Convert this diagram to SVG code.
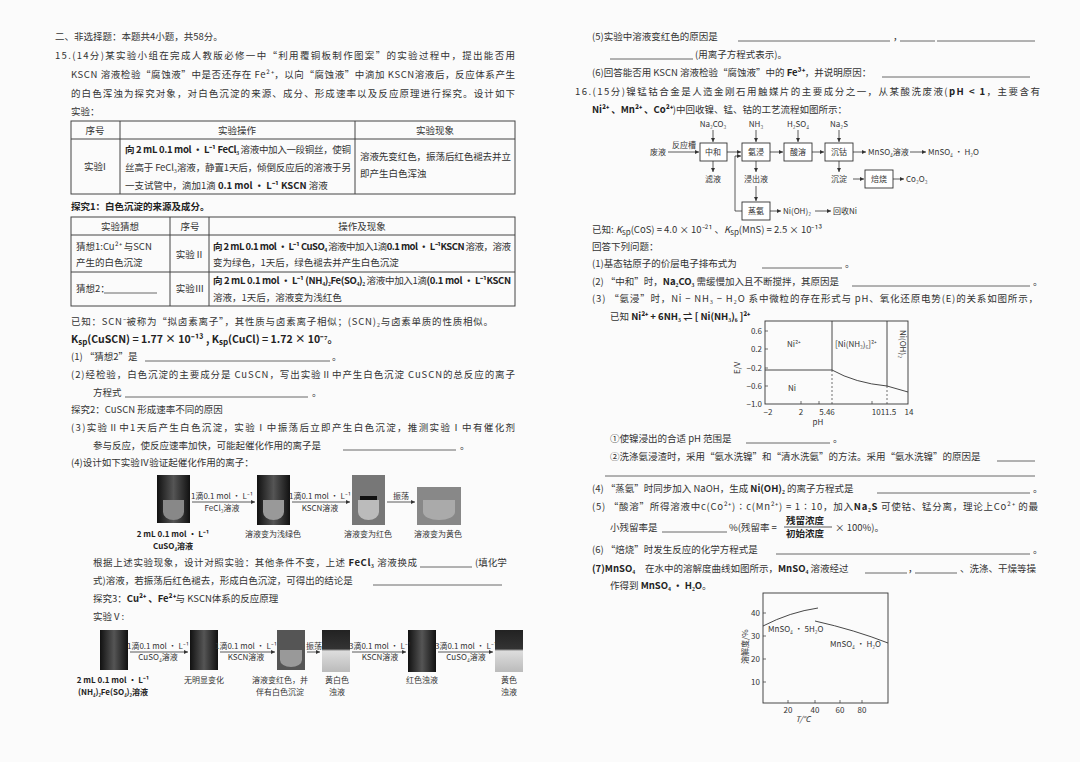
<svg xmlns="http://www.w3.org/2000/svg" width="1080" height="762" viewBox="0 0 1080 762">
<style>
text{font-family:"Noto Sans CJK SC","Liberation Serif",serif;font-size:9.5px;fill:#333}
.b{font-weight:bold;fill:#222}
.s{font-size:8px}
.ln{stroke:#444;stroke-width:0.8;fill:none}
.tb{stroke:#444;stroke-width:1;fill:none}
.bx{stroke:#333;stroke-width:0.9;fill:#fff}
.ar{stroke:#333;stroke-width:0.8;fill:none;marker-end:url(#a)}
.c{text-anchor:middle}
</style>
<defs>
<marker id="a" markerWidth="6" markerHeight="6" refX="5" refY="3" orient="auto"><path d="M0,0.5 L5,3 L0,5.5z" fill="#333"/></marker>
<linearGradient id="tube" x1="0" y1="0" x2="1" y2="0"><stop offset="0" stop-color="#111"/><stop offset="0.5" stop-color="#555"/><stop offset="1" stop-color="#111"/></linearGradient>
<linearGradient id="tubeL" x1="0" y1="0" x2="0" y2="1"><stop offset="0" stop-color="#222"/><stop offset="0.45" stop-color="#333"/><stop offset="0.5" stop-color="#ddd"/><stop offset="1" stop-color="#bbb"/></linearGradient>
</defs>
<rect width="1080" height="762" fill="#fbfbfb"/>

<g id="left-text">
<text x="55" y="40">二、非选择题：本题共4小题，共58分。</text>
<text x="55" y="59" textLength="460">15.(14分)某实验小组在完成人教版必修一中“利用覆铜板制作图案”的实验过程中，提出能否用</text>
<text x="71" y="78" textLength="444">KSCN 溶液检验“腐蚀液”中是否还存在 Fe²⁺，以向“腐蚀液”中滴加 KSCN溶液后，反应体系产生</text>
<text x="71" y="97" textLength="444">的白色浑浊为探究对象，对白色沉淀的来源、成分、形成速率以及反应原理进行探究。设计如下</text>
<text x="71" y="115">实验：</text>
</g>

<g id="table1">
<rect class="tb" x="71" y="121" width="444" height="73"/>
<line class="tb" x1="71" y1="139" x2="515" y2="139"/>
<line class="tb" x1="120" y1="121" x2="120" y2="194"/>
<line class="tb" x1="355" y1="121" x2="355" y2="194"/>
<text class="c" x="95" y="134">序号</text>
<text class="c" x="237" y="134">实验操作</text>
<text class="c" x="435" y="134">实验现象</text>
<text class="c" x="95" y="170">实验I</text>
<text x="125" y="153" textLength="226"><tspan class="b">向 2 mL 0.1 mol · L⁻¹ FeCl₃</tspan> 溶液中加入一段铜丝，使铜</text>
<text x="125" y="171" textLength="226">丝高于 FeCl₃溶液，静置1天后，倾倒反应后的溶液于另</text>
<text x="125" y="189">一支试管中，滴加1滴 <tspan class="b">0.1 mol · L⁻¹ KSCN</tspan> 溶液</text>
<text x="360" y="160" textLength="151">溶液先变红色，振荡后红色褪去并立</text>
<text x="360" y="177">即产生白色浑浊</text>
</g>

<text class="b" x="71" y="210">探究1：白色沉淀的来源及成分。</text>

<g id="table2">
<rect class="tb" x="71" y="217" width="444" height="89"/>
<line class="tb" x1="71" y1="235" x2="515" y2="235"/>
<line class="tb" x1="71" y1="272" x2="515" y2="272"/>
<line class="tb" x1="170" y1="217" x2="170" y2="306"/>
<line class="tb" x1="209" y1="217" x2="209" y2="306"/>
<text class="c" x="120" y="230">实验猜想</text>
<text class="c" x="190" y="230">序号</text>
<text class="c" x="362" y="230">操作及现象</text>
<text x="76" y="250">猜想1:Cu²⁺ 与SCN</text>
<text x="76" y="266">产生的白色沉淀</text>
<text class="c" x="190" y="258">实验Ⅱ</text>
<text x="213" y="250" textLength="298"><tspan class="b">向 2 mL 0.1 mol · L⁻¹ CuSO₄</tspan> 溶液中加入1滴<tspan class="b">0.1 mol · L⁻¹KSCN</tspan> 溶液，溶液</text>
<text x="213" y="266">变为绿色，1天后，绿色褪去并产生白色沉淀</text>
<text x="76" y="292">猜想2：</text><line class="ln" x1="104" y1="293" x2="157" y2="293"/>
<text class="c" x="190" y="292">实验Ⅲ</text>
<text x="213" y="284" textLength="298"><tspan class="b">向 2 mL 0.1 mol · L⁻¹ (NH₄)₂Fe(SO₄)₂</tspan> 溶液中加入1滴<tspan class="b">(0.1 mol · L⁻¹KSCN</tspan></text>
<text x="213" y="301">溶液，1天后，溶液变为浅红色</text>
</g>

<g id="left-questions">
<text x="71" y="325" textLength="422">已知：SCN⁻被称为“拟卤素离子”，其性质与卤素离子相似；(SCN)₂与卤素单质的性质相似。</text>
<text class="b" x="71" y="343" style="font-size:10.5px">K<tspan class="s" dy="2">sp</tspan><tspan dy="-2">(CuSCN) = 1.77 × 10⁻¹³ , K</tspan><tspan class="s" dy="2">sp</tspan><tspan dy="-2">(CuCl) = 1.72 × 10⁻⁷。</tspan></text>
<text x="71" y="360">(1) “猜想2”是</text><line class="ln" x1="145" y1="361" x2="330" y2="361"/><text x="332" y="360">。</text>
<text x="71" y="378" textLength="444">(2)经检验，白色沉淀的主要成分是 CuSCN，写出实验Ⅱ中产生白色沉淀 CuSCN的总反应的离子</text>
<text x="93" y="396">方程式</text><line class="ln" x1="125" y1="397" x2="308" y2="397"/><text x="312" y="396">。</text>
<text x="71" y="413">探究2：CuSCN 形成速率不同的原因</text>
<text x="71" y="431" textLength="444">(3)实验Ⅱ中1天后产生白色沉淀，实验Ⅰ中振荡后立即产生白色沉淀，推测实验Ⅰ中有催化剂</text>
<text x="93" y="449">参与反应，使反应速率加快，可能起催化作用的离子是</text><line class="ln" x1="343" y1="450" x2="456" y2="450"/><text x="460" y="449">。</text>
<text x="71" y="466">(4)设计如下实验Ⅳ验证起催化作用的离子：</text>
</g>

<g id="photos-IV">
<rect x="157" y="475" width="33" height="48" fill="url(#tube)"/>
<path d="M163,500 h21 v12 a10.5,8 0 0 1 -21,0z" fill="#888"/>
<rect x="257" y="475" width="33" height="50" fill="url(#tube)"/>
<path d="M263,500 h21 v12 a10.5,8 0 0 1 -21,0z" fill="#999"/>
<rect x="352" y="475" width="33" height="50" fill="#777"/>
<rect x="360" y="496" width="17" height="4" fill="#111"/>
<path d="M358,500 h21 v12 a10.5,8 0 0 1 -21,0z" fill="#bbb"/>
<rect x="417" y="487" width="44" height="38" fill="#888"/>
<path d="M423,500 h32 v12 a16,8 0 0 1 -32,0z" fill="#aaa"/>
<line class="ar" x1="192" y1="502" x2="255" y2="502"/>
<text class="c s" x="222" y="499">1滴0.1 mol · L⁻¹</text>
<text class="c s" x="222" y="511">FeCl₃溶液</text>
<line class="ar" x1="292" y1="502" x2="350" y2="502"/>
<text class="c s" x="320" y="499">1滴0.1 mol · L⁻¹</text>
<text class="c s" x="320" y="511">KSCN溶液</text>
<line class="ar" x1="387" y1="502" x2="415" y2="502"/>
<text class="c s" x="401" y="499">振荡</text>
<text class="c s b" x="173" y="537">2 mL 0.1 mol · L⁻¹</text>
<text class="c s b" x="173" y="549">CuSO₄溶液</text>
<text class="c s" x="273" y="537">溶液变为浅绿色</text>
<text class="c s" x="368" y="537">溶液变为红色</text>
<text class="c s" x="438" y="537">溶液变为黄色</text>
</g>

<g id="left-questions2">
<text x="93" y="566" textLength="324">根据上述实验现象，设计对照实验：其他条件不变，上述 <tspan class="b">FeCl₃</tspan> 溶液换成</text>
<line class="ln" x1="420" y1="567" x2="472" y2="567"/><text x="475" y="566">(填化学</text>
<text x="93" y="584">式)溶液，若振荡后红色褪去，形成白色沉淀，可得出的结论是</text><line class="ln" x1="373" y1="585" x2="502" y2="585"/>
<text x="93" y="602">探究3：<tspan class="b">Cu²⁺ 、Fe²⁺</tspan>与 KSCN体系的反应原理</text>
<text x="93" y="620">实验Ⅴ:</text>
</g>

<g id="photos-V">
<rect x="100" y="630" width="28" height="40" fill="url(#tube)"/>
<rect x="190" y="630" width="28" height="40" fill="url(#tube)"/>
<rect x="277" y="630" width="28" height="40" fill="#555"/>
<path d="M280,650 h22 v10 a11,7 0 0 1 -22,0z" fill="#999"/>
<rect x="322" y="630" width="28" height="42" fill="url(#tubeL)"/>
<rect x="408" y="630" width="28" height="42" fill="url(#tube)"/>
<rect x="495" y="630" width="28" height="42" fill="url(#tubeL)"/>
<line class="ar" x1="130" y1="652" x2="188" y2="652"/>
<text class="c s" x="158" y="649">1滴0.1 mol · L⁻¹</text><text class="c s" x="158" y="660">CuSO₄溶液</text>
<line class="ar" x1="220" y1="652" x2="275" y2="652"/>
<text class="c s" x="246" y="649">1滴0.1 mol · L⁻¹</text><text class="c s" x="246" y="660">KSCN溶液</text>
<line class="ar" x1="307" y1="652" x2="320" y2="652"/>
<text class="c s" x="314" y="649">振荡</text>
<line class="ar" x1="352" y1="652" x2="406" y2="652"/>
<text class="c s" x="380" y="649">3滴0.1 mol · L⁻¹</text><text class="c s" x="380" y="660">KSCN溶液</text>
<line class="ar" x1="438" y1="652" x2="493" y2="652"/>
<text class="c s" x="466" y="649">3滴0.1 mol · L⁻¹</text><text class="c s" x="466" y="660">CuSO₄溶液</text>
<text class="c s b" x="113" y="683">2 mL 0.1 mol · L⁻¹</text><text class="c s b" x="113" y="695">(NH₄)₂Fe(SO₄)₂溶液</text>
<text class="c s" x="204" y="683">无明显变化</text>
<text class="c s" x="280" y="683">溶液变红色，并</text><text class="c s" x="280" y="695">伴有白色沉淀</text>
<text class="c s" x="337" y="683">黄白色</text><text class="c s" x="337" y="695">浊液</text>
<text class="c s" x="422" y="683">红色浊液</text>
<text class="c s" x="509" y="683">黄色</text><text class="c s" x="509" y="695">浊液</text>
</g>

<g id="right-text">
<text x="592" y="40">(5)实验中溶液变红色的原因是</text><line class="ln" x1="738" y1="41" x2="890" y2="41"/><text x="893" y="40">，</text><line class="ln" x1="900" y1="41" x2="935" y2="41"/><line class="ln" x1="937" y1="41" x2="1035" y2="41"/>
<line class="ln" x1="610" y1="59" x2="693" y2="59"/><text x="695" y="58">(用离子方程式表示)。</text>
<text x="592" y="76">(6)回答能否用 KSCN 溶液检验“腐蚀液”中的 <tspan class="b">Fe³⁺</tspan>，并说明原因：</text><line class="ln" x1="882" y1="77" x2="1030" y2="77"/>
<text x="575" y="95" textLength="465">16.(15分)镍锰钴合金是人造金刚石用触媒片的主要成分之一，从某酸洗废液(<tspan class="b">pH &lt; 1</tspan>，主要含有</text>
<text x="592" y="113"><tspan class="b">Ni²⁺ 、Mn²⁺ 、Co²⁺</tspan>)中回收镍、锰、钴的工艺流程如图所示：</text>
</g>

<g id="flowchart">
<text class="c s" x="713" y="127">Na₂CO₃</text>
<text class="c s" x="756" y="127">NH₃</text>
<text class="c s" x="798" y="127">H₂SO₄</text>
<text class="c s" x="839" y="127">Na₂S</text>
<line class="ar" x1="713" y1="130" x2="713" y2="142"/>
<line class="ar" x1="756" y1="130" x2="756" y2="142"/>
<line class="ar" x1="798" y1="130" x2="798" y2="142"/>
<line class="ar" x1="839" y1="130" x2="839" y2="142"/>
<rect class="bx" x="700" y="143" width="27" height="18"/><text class="c s" x="713" y="155">中和</text>
<rect class="bx" x="742" y="143" width="28" height="18"/><text class="c s" x="756" y="155">氨浸</text>
<rect class="bx" x="784" y="143" width="28" height="18"/><text class="c s" x="798" y="155">酸溶</text>
<rect class="bx" x="825" y="143" width="28" height="18"/><text class="c s" x="839" y="155">沉钴</text>
<text class="s" x="650" y="155">废液</text>
<line class="ar" x1="668" y1="152" x2="699" y2="152"/><text class="c s" x="684" y="148">反应槽</text>
<line class="ar" x1="727" y1="152" x2="741" y2="152"/>
<line class="ar" x1="770" y1="152" x2="783" y2="152"/>
<line class="ar" x1="812" y1="152" x2="824" y2="152"/>
<line class="ar" x1="853" y1="152" x2="866" y2="152"/>
<text class="s" x="868" y="155">MnSO₄溶液</text>
<line class="ar" x1="910" y1="152" x2="926" y2="152"/>
<text class="s" x="928" y="155">MnSO₄ · H₂O</text>
<line class="ar" x1="713" y1="161" x2="713" y2="172"/><text class="c s" x="713" y="182">滤液</text>
<line class="ar" x1="756" y1="161" x2="756" y2="172"/><text class="c s" x="756" y="182">浸出液</text>
<line class="ar" x1="839" y1="161" x2="839" y2="172"/><text class="c s" x="839" y="182">沉淀</text>
<line class="ar" x1="853" y1="179" x2="864" y2="179"/>
<rect class="bx" x="865" y="170" width="28" height="18"/><text class="c s" x="879" y="182">焙烧</text>
<line class="ar" x1="893" y1="179" x2="904" y2="179"/><text class="s" x="906" y="182">Co₂O₃</text>
<line class="ar" x1="756" y1="186" x2="756" y2="201"/>
<rect class="bx" x="742" y="202" width="28" height="18"/><text class="c s" x="756" y="214">蒸氨</text>
<polyline class="ar" points="742,211 735,211 735,156 741,156"/>
<line class="ar" x1="770" y1="211" x2="781" y2="211"/><text class="s" x="783" y="214">Ni(OH)₂</text>
<line class="ar" x1="815" y1="211" x2="831" y2="211"/><text class="s" x="833" y="214">回收Ni</text>
</g>

<g id="right-q1">
<text x="592" y="233">已知: <tspan font-style="italic">K</tspan><tspan class="s" dy="2">sp</tspan><tspan dy="-2">(CoS) = 4.0 × 10⁻²¹ 、</tspan><tspan font-style="italic">K</tspan><tspan class="s" dy="2">sp</tspan><tspan dy="-2">(MnS) = 2.5 × 10⁻¹³</tspan></text>
<text x="592" y="250">回答下列问题：</text>
<text x="592" y="267">(1)基态钴原子的价层电子排布式为</text><line class="ln" x1="762" y1="268" x2="842" y2="268"/><text x="845" y="267">。</text>
<text x="592" y="285">(2) “中和”时，<tspan class="b">Na₂CO₃</tspan> 需缓慢加入且不断搅拌，其原因是</text><line class="ln" x1="852" y1="286" x2="1030" y2="286"/><text x="1033" y="285">。</text>
<text x="592" y="302" textLength="446">(3) “氨浸”时，Ni − NH₃ − H₂O 系中微粒的存在形式与 pH、氧化还原电势(E)的关系如图所示，</text>
<text x="610" y="320">已知 <tspan class="b">Ni²⁺ + 6NH₃ ⇌ [ Ni(NH₃)₆ ]²⁺</tspan></text>
</g>

<g id="chart-E-pH">
<rect x="765" y="321" width="143" height="83" fill="none" stroke="#333" stroke-width="0.9"/>
<line x1="832" y1="321" x2="832" y2="370" stroke="#333" stroke-width="0.9"/>
<line x1="887" y1="321" x2="887" y2="386" stroke="#333" stroke-width="0.9"/>
<line x1="765" y1="370" x2="832" y2="370" stroke="#333" stroke-width="0.9"/>
<path d="M832,370 Q855,383 887,386 L908,392" fill="none" stroke="#333" stroke-width="0.9"/>
<line x1="832" y1="370" x2="832" y2="404" stroke="#333" stroke-width="0.7" stroke-dasharray="2,2"/>
<line x1="887" y1="386" x2="887" y2="404" stroke="#333" stroke-width="0.7" stroke-dasharray="2,2"/>
<g stroke="#333" stroke-width="0.7">
<line x1="765" y1="331" x2="768" y2="331"/><line x1="765" y1="349" x2="768" y2="349"/><line x1="765" y1="368" x2="768" y2="368"/><line x1="765" y1="386" x2="768" y2="386"/>
<line x1="801" y1="404" x2="801" y2="401"/><line x1="819" y1="404" x2="819" y2="401"/><line x1="872" y1="404" x2="872" y2="401"/>
</g>
<text class="s" x="762" y="334" text-anchor="end">0.6</text>
<text class="s" x="762" y="352" text-anchor="end">0.2</text>
<text class="s" x="762" y="371" text-anchor="end">−0.2</text>
<text class="s" x="762" y="389" text-anchor="end">−0.6</text>
<text class="s" x="762" y="407" text-anchor="end">−1.0</text>
<text class="s c" x="768" y="415">−2</text>
<text class="s c" x="801" y="415">2</text>
<text class="s c" x="827" y="415">5.46</text>
<text class="s c" x="884" y="415">1011.5</text>
<text class="s c" x="909" y="415">14</text>
<text class="s c" x="818" y="425">pH</text>
<text class="s" transform="translate(740,374) rotate(-90)">E/V</text>
<text class="s" x="787" y="347">Ni²⁺</text>
<text class="s" x="835" y="347">[Ni(NH₃)₆]²⁺</text>
<text class="s" transform="translate(900,330) rotate(90)">Ni(OH)₂</text>
<text class="s" x="788" y="391">Ni</text>
</g>

<g id="right-q2">
<text x="610" y="442">①使镍浸出的合适 pH 范围是</text><line class="ln" x1="746" y1="443" x2="830" y2="443"/><text x="833" y="442">。</text>
<text x="610" y="460">②洗涤氨浸渣时，采用“氨水洗镍”和“清水洗氨”的方法。采用“氨水洗镍”的原因是</text><line class="ln" x1="997" y1="461" x2="1035" y2="461"/>
<line class="ln" x1="605" y1="476" x2="1035" y2="476"/>
<text x="592" y="492">(4) “蒸氨”时同步加入 NaOH，生成 <tspan class="b">Ni(OH)₂</tspan> 的离子方程式是</text><line class="ln" x1="877" y1="493" x2="1030" y2="493"/><text x="1033" y="492">。</text>
<text x="592" y="510" textLength="446">(5) “酸溶”所得溶液中c(Co²⁺)∶c(Mn²⁺) = 1∶10，加入<tspan class="b">Na₂S</tspan> 可使钴、锰分离，理论上Co²⁺ 的最</text>
<text x="610" y="531">小残留率是</text><line class="ln" x1="662" y1="532" x2="727" y2="532"/><text x="729" y="531">%(残留率 =</text>
<text class="b" x="786" y="524">残留浓度</text><line x1="784" y1="527" x2="832" y2="527" stroke="#333" stroke-width="0.8"/><text class="b" x="786" y="537">初始浓度</text>
<text x="835" y="531">× 100%)。</text>
<text x="592" y="553">(6) “焙烧”时发生反应的化学方程式是</text><line class="ln" x1="776" y1="554" x2="1030" y2="554"/><text x="1033" y="553">。</text>
<text x="592" y="572" class="b">(7)<tspan>MnSO₄</tspan></text><text x="645" y="572">在水中的溶解度曲线如图所示，<tspan class="b">MnSO₄</tspan> 溶液经过</text><line class="ln" x1="865" y1="573" x2="907" y2="573"/><text x="908" y="572">，</text><line class="ln" x1="915" y1="573" x2="957" y2="573"/><text x="960" y="572">、洗涤、干燥等操</text>
<text x="610" y="589">作得到 <tspan class="b">MnSO₄ · H₂O</tspan>。</text>
</g>

<g id="chart-solubility">
<rect x="763" y="593" width="125" height="110" fill="none" stroke="#333" stroke-width="0.9"/>
<path d="M763,626 Q790,612 818,608" fill="none" stroke="#333" stroke-width="0.9"/>
<path d="M815,621 Q855,630 888,643" fill="none" stroke="#333" stroke-width="0.9"/>
<g stroke="#333" stroke-width="0.7">
<line x1="763" y1="613" x2="766" y2="613"/><line x1="763" y1="636" x2="766" y2="636"/><line x1="763" y1="659" x2="766" y2="659"/><line x1="763" y1="682" x2="766" y2="682"/>
<line x1="788" y1="703" x2="788" y2="700"/><line x1="815" y1="703" x2="815" y2="700"/><line x1="840" y1="703" x2="840" y2="700"/><line x1="862" y1="703" x2="862" y2="700"/>
</g>
<text class="s" x="760" y="616" text-anchor="end">40</text>
<text class="s" x="760" y="639" text-anchor="end">30</text>
<text class="s" x="760" y="662" text-anchor="end">20</text>
<text class="s" x="760" y="685" text-anchor="end">10</text>
<text class="s c" x="788" y="713">20</text>
<text class="s c" x="815" y="713">40</text>
<text class="s c" x="840" y="713">60</text>
<text class="s c" x="862" y="713">80</text>
<text class="s c" x="803" y="722" font-style="italic">T/℃</text>
<text class="s" transform="translate(748,664) rotate(-90)">溶解度/%</text>
<text class="s" x="768" y="632">MnSO₄ · 5H₂O</text>
<text class="s" x="830" y="647">MnSO₄ · H₂O</text>
</g>
</svg>
